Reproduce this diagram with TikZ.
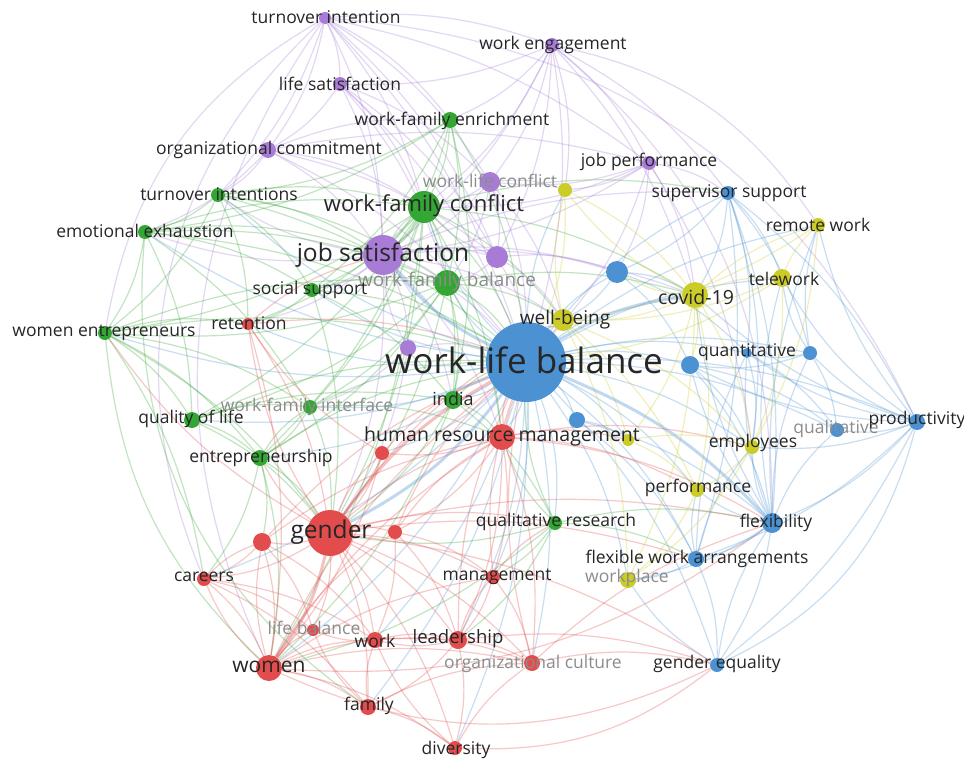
\documentclass[tikz,border=0pt]{standalone}
\usepackage{fontspec}
\setmainfont{Open Sans}
\usetikzlibrary{backgrounds}
\definecolor{cred}{RGB}{226,76,76}
\definecolor{cgreen}{RGB}{52,166,52}
\definecolor{cblue}{RGB}{76,146,210}
\definecolor{cyellow}{RGB}{204,204,40}
\definecolor{cpurple}{RGB}{168,124,214}
\definecolor{ctext}{RGB}{38,38,38}
\definecolor{cgrey}{RGB}{140,140,140}
\newcommand{\fs}[1]{\fontsize{#1}{#1}\selectfont}
\tikzset{
  kw/.style={circle, inner sep=0pt, minimum size=#1},
  lbl/.style={inner sep=0pt, text=ctext, font=\fs{17.5}},
  dim/.style={inner sep=0pt, text=cgrey, font=\fs{17.5}},
  lk/.style={draw=#1, line width=1.2pt, draw opacity=0.3, bend left=12},
  lkk/.style={lk=#1, line width=3pt, draw opacity=0.35},
}
\begin{document}
\begin{tikzpicture}[x=1pt, y=-1pt]
  \useasboundingbox (0,0) rectangle (964,760);
  % purple cluster
  \node[kw=12, fill=cpurple] (ti) at (325,18) {};
  \node[kw=14, fill=cpurple] (ls) at (340,84) {};
  \node[kw=14, fill=cpurple] (we) at (552,45) {};
  \node[kw=16, fill=cpurple] (oc) at (268,150) {};
  \node[kw=14, fill=cpurple] (jp) at (649,163) {};
  \node[kw=20, fill=cpurple] (wlc) at (490,182) {};
  \node[kw=40, fill=cpurple] (js) at (383,255) {};
  \node[kw=22, fill=cpurple] (p1) at (497,257) {};
  \node[kw=16, fill=cpurple] (p2) at (408,348) {};
  % green cluster
  \node[kw=16, fill=cgreen] (wfe) at (450,120) {};
  \node[kw=14, fill=cgreen] (tis) at (218,195) {};
  \node[kw=14, fill=cgreen] (ee) at (145,232) {};
  \node[kw=32, fill=cgreen] (wfc) at (424,207) {};
  \node[kw=26, fill=cgreen] (wfb) at (447,283) {};
  \node[kw=14, fill=cgreen] (ss) at (312,290) {};
  \node[kw=14, fill=cgreen] (went) at (105,333) {};
  \node[kw=16, fill=cgreen] (qol) at (192,420) {};
  \node[kw=14, fill=cgreen] (wfi) at (310,407) {};
  \node[kw=18, fill=cgreen] (ind) at (453,400) {};
  \node[kw=16, fill=cgreen] (ent) at (260,458) {};
  \node[kw=14, fill=cgreen] (qr) at (555,523) {};
  % red cluster
  \node[kw=12, fill=cred] (ret) at (248,324) {};
  \node[kw=26, fill=cred] (hrm) at (502,437) {};
  \node[kw=14, fill=cred] (r1) at (382,453) {};
  \node[kw=46, fill=cred] (gen) at (330,533) {};
  \node[kw=18, fill=cred] (r2) at (262,542) {};
  \node[kw=14, fill=cred] (r3) at (395,532) {};
  \node[kw=14, fill=cred] (car) at (204,579) {};
  \node[kw=14, fill=cred] (man) at (493,577) {};
  \node[kw=12, fill=cred] (lb) at (313,630) {};
  \node[kw=16, fill=cred] (wrk) at (375,640) {};
  \node[kw=18, fill=cred] (lead) at (458,640) {};
  \node[kw=16, fill=cred] (orc) at (532,663) {};
  \node[kw=26, fill=cred] (wom) at (269,668) {};
  \node[kw=16, fill=cred] (fam) at (368,707) {};
  \node[kw=14, fill=cred] (div) at (455,748) {};
  % blue cluster
  \node[kw=80, fill=cblue] (wlb) at (526,362) {};
  \node[kw=14, fill=cblue] (sup) at (728,193) {};
  \node[kw=22, fill=cblue] (b1) at (617,272) {};
  \node[kw=10, fill=cblue] (qnt) at (747,353) {};
  \node[kw=18, fill=cblue] (b2) at (690,365) {};
  \node[kw=14, fill=cblue] (b3) at (810,353) {};
  \node[kw=16, fill=cblue] (b4) at (577,420) {};
  \node[kw=14, fill=cblue] (qlt) at (837,430) {};
  \node[kw=16, fill=cblue] (prod) at (917,422) {};
  \node[kw=20, fill=cblue] (flex) at (772,523) {};
  \node[kw=16, fill=cblue] (fwa) at (696,559) {};
  \node[kw=14, fill=cblue] (geq) at (717,665) {};
  % yellow cluster
  \node[kw=14, fill=cyellow] (y1) at (565,190) {};
  \node[kw=14, fill=cyellow] (rw) at (818,225) {};
  \node[kw=18, fill=cyellow] (tw) at (782,278) {};
  \node[kw=26, fill=cyellow] (cov) at (695,295) {};
  \node[kw=22, fill=cyellow] (wb) at (563,320) {};
  \node[kw=12, fill=cyellow] (y2) at (628,440) {};
  \node[kw=14, fill=cyellow] (emp) at (752,447) {};
  \node[kw=14, fill=cyellow] (perf) at (697,490) {};
  \node[kw=16, fill=cyellow] (wpl) at (628,580) {};

  % links
  \begin{scope}[on background layer]
    \fill[white] (0,0) rectangle (964,760);
    \foreach \t in {ls,oc,js,we,wfc,wlb,wfe,jp,tis,wlc,p1}
      \draw[lk=cpurple] (ti) to (\t);
    \draw[lk=cpurple, bend right=35] (ti) to (car);
    \draw[lk=cpurple, bend right=30] (ti) to (wom);
    \draw[lk=cpurple, bend right=25] (ti) to (went);
    \draw[lk=cpurple, bend left=30] (ti) to (prod);
    \foreach \t in {ls,js,wlc,jp,wlb,sup,y1,p1,wfe,cov,wfc}
      \draw[lk=cpurple] (we) to (\t);
    \draw[lk=cpurple, bend left=25] (we) to (flex);
    \draw[lk=cpurple, bend left=22] (we) to (rw);
    \foreach \t in {js,oc,wlc,wfc,wlb,p1,wfb}
      \draw[lk=cpurple] (ls) to (\t);
    \foreach \t in {js,wfc,tis,wlb,p1,wfe,jp,ee}
      \draw[lk=cpurple] (oc) to (\t);
    \foreach \t in {sup,js,wlb,wlc,y1,b1,cov,emp,wfc}
      \draw[lk=cpurple] (jp) to (\t);
    \foreach \t in {js,wfc,wlb,wfb,y1,p1,wb}
      \draw[lk=cpurple] (wlc) to (\t);
    \foreach \t in {wfc,wfb,p1,p2,wlb,ss,ind,hrm,gen,wb,cov,ret,tis,ee,b1,sup}
      \draw[lk=cpurple] (js) to (\t);
    \foreach \t in {wfb,wlb,wfc,b1,wb}
      \draw[lk=cpurple] (p1) to (\t);
    \foreach \t in {wlb,js,gen,wfi}
      \draw[lk=cpurple] (p2) to (\t);
    \foreach \t in {wfc,js,wfb,wlb,ss,tis,ee,ind}
      \draw[lk=cgreen] (wfe) to (\t);
    \foreach \t in {wfc,js,ee,ss,wfb,wlb,went,ret}
      \draw[lk=cgreen] (tis) to (\t);
    \foreach \t in {wfc,js,ss,went,qol,wfb,wlb,wfi}
      \draw[lk=cgreen] (ee) to (\t);
    \draw[lk=cgreen, bend right=30] (ee) to (fam);
    \foreach \t in {wfb,wlb,ss,ind,wfi,gen,hrm,ret,wom,went,qol,ent,sup,wb,cov}
      \draw[lk=cgreen] (wfc) to (\t);
    \foreach \t in {wlb,ind,wfi,gen,hrm,qol,ent,went,wb,cov}
      \draw[lk=cgreen] (wfb) to (\t);
    \foreach \t in {wfb,wlb,ret,ind,gen}
      \draw[lk=cgreen] (ss) to (\t);
    \foreach \t in {ent,qol,wfi,gen,wlb,car,wfb,ret}
      \draw[lk=cgreen] (went) to (\t);
    \draw[lk=cgreen, bend right=20] (went) to (wom);
    \foreach \t in {ent,wfi,wlb,gen,ind}
      \draw[lk=cgreen] (qol) to (\t);
    \foreach \t in {ent,gen,wlb,hrm}
      \draw[lk=cgreen] (wfi) to (\t);
    \foreach \t in {wlb,hrm,gen,qr,wom}
      \draw[lk=cgreen] (ind) to (\t);
    \foreach \t in {gen,wom,car,wlb,wfi,r2}
      \draw[lk=cgreen] (ent) to (\t);
    \foreach \t in {wlb,gen,hrm,man,wom,flex,fwa,lead}
      \draw[lk=cgreen] (qr) to (\t);
    \foreach \t in {car,r2,r3,r1,hrm,man,lead,wrk,lb,fam,div,orc,ret,went,ent,flex,fwa,geq,qr,wb}
      \draw[lk=cred] (gen) to (\t);
    \foreach \t in {car,lb,wrk,lead,fam,div,r2,hrm,man,orc,wlb,r3}
      \draw[lk=cred] (wom) to (\t);
    \draw[lk=cred, bend right=25] (wom) to (geq);
    \draw[lk=cred, bend right=20] (wom) to (flex);
    \foreach \t in {wlb,man,lead,r1,orc,flex,wb,emp,perf,y2,r3}
      \draw[lk=cred] (hrm) to (\t);
    \foreach \t in {wlb,gen,wom,ret}
      \draw[lk=cred] (r1) to (\t);
    \foreach \t in {wom,car,lb,wrk,hrm,wlb}
      \draw[lk=cred] (r2) to (\t);
    \foreach \t in {wrk,lead,man,hrm,wlb}
      \draw[lk=cred] (r3) to (\t);
    \foreach \t in {orc,div,fam,wrk,man,wlb,geq}
      \draw[lk=cred] (lead) to (\t);
    \foreach \t in {r2,wom,lb,wrk,fam}
      \draw[lk=cred] (car) to (\t);
    \foreach \t in {div,wrk,lb,orc}
      \draw[lk=cred] (fam) to (\t);
    \foreach \t in {lead,lb,orc}
      \draw[lk=cred] (wrk) to (\t);
    \foreach \t in {orc,lead,wlb,qr}
      \draw[lk=cred] (man) to (\t);
    \foreach \t in {wlb,gen,wom,js}
      \draw[lk=cred] (ret) to (\t);
    \foreach \t in {orc,wrk}
      \draw[lk=cred] (div) to (\t);
    \draw[lk=cred, bend right=20] (div) to (geq);
    \foreach \t in {geq,wlb,flex}
      \draw[lk=cred] (orc) to (\t);
    \foreach \t in {sup,b1,qnt,b2,b3,b4,qlt,prod,fwa,geq,tw,rw,wb,emp,perf,wpl,y1,y2,wom,hrm,ind,wfc,wfb,car,lead,fam,went,qol,ee,tis,ret,ss,wfi,ent,r1,man,orc,wrk,div,qr}
      \draw[lk=cblue] (wlb) to (\t);
    \foreach \t in {b1,qnt,b3,prod,flex,fwa,tw,cov,emp}
      \draw[lk=cblue] (sup) to (\t);
    \foreach \t in {flex,qlt,b3,qnt,b2,tw,rw,fwa,geq,emp,cov}
      \draw[lk=cblue] (prod) to (\t);
    \foreach \t in {fwa,geq,qlt,b3,qnt,b2,emp,perf,wpl,tw,rw,cov}
      \draw[lk=cblue] (flex) to (\t);
    \foreach \t in {geq,wpl,perf,emp,qnt}
      \draw[lk=cblue] (fwa) to (\t);
    \foreach \t in {wpl,flex}
      \draw[lk=cblue] (geq) to (\t);
    \draw[lk=cblue, bend right=25] (geq) to (prod);
    \foreach \t in {qnt,b2,tw,rw,qlt}
      \draw[lk=cblue] (b3) to (\t);
    \foreach \t in {wb,cov,b2,qnt}
      \draw[lk=cblue] (b1) to (\t);
    \foreach \t in {qlt,emp,flex}
      \draw[lk=cblue] (b2) to (\t);
    \foreach \t in {qlt,emp}
      \draw[lk=cblue] (qnt) to (\t);
    \foreach \t in {y2,flex,fwa}
      \draw[lk=cblue] (b4) to (\t);
    \foreach \t in {tw,rw,wb,emp,perf,y1,y2,wpl,b2,b1}
      \draw[lk=cyellow] (cov) to (\t);
    \foreach \t in {rw,emp,wb,wlb}
      \draw[lk=cyellow] (tw) to (\t);
    \foreach \t in {emp,wb}
      \draw[lk=cyellow] (rw) to (\t);
    \foreach \t in {y1,y2,emp,perf,wpl}
      \draw[lk=cyellow] (wb) to (\t);
    \foreach \t in {cov,wlb}
      \draw[lk=cyellow] (y1) to (\t);
    \foreach \t in {emp,perf}
      \draw[lk=cyellow] (y2) to (\t);
    \foreach \t in {perf,wpl}
      \draw[lk=cyellow] (emp) to (\t);
    \draw[lk=cyellow] (perf) to (wpl);
    % heavier links
    \draw[lkk=cred] (gen) to (wom);
    \draw[lkk=cred] (gen) to (wlb);
    \draw[lkk=cblue] (wlb) to (js);
    \draw[lkk=cblue] (wlb) to (cov);
    \draw[lkk=cblue] (wlb) to (flex);
    \draw[lkk=cblue] (wlb) to (gen);
    \draw[lkk=cgreen] (wfc) to (js);
  \end{scope}

  % labels
  \node[lbl] (ti-t) at (326,17) {turnover intention};
  \node[lbl] (ls-t) at (340,84) {life satisfaction};
  \node[lbl] (we-t) at (553,45) {work engagement};
  \node[lbl] (oc-t) at (269,150) {organizational commitment};
  \node[lbl] (jp-t) at (649,162) {job performance};
  \node[dim] (wlc-t) at (490,181) {work-life conflict};
  \node[lbl, font=\fs{24.5}] (js-t) at (383,255) {job satisfaction};
  \node[lbl] (wfe-t) at (452,121) {work-family enrichment};
  \node[lbl] (tis-t) at (219,194) {turnover intentions};
  \node[lbl] (ee-t) at (145,231) {emotional exhaustion};
  \node[lbl, font=\fs{22}] (wfc-t) at (424,206) {work-family conflict};
  \node[dim, font=\fs{19}] (wfb-t) at (447,282) {work-family balance};
  \node[lbl] (ss-t) at (310,290) {social support};
  \node[lbl] (went-t) at (104,333) {women entrepreneurs};
  \node[lbl] (qol-t) at (191,419) {quality of life};
  \node[dim] (wfi-t) at (307,407) {work-family interface};
  \node[lbl, font=\fs{18}] (ind-t) at (453,399) {india};
  \node[lbl] (ent-t) at (261,458) {entrepreneurship};
  \node[lbl] (qr-t) at (556,522) {qualitative research};
  \node[lbl] (ret-t) at (249,323) {retention};
  \node[lbl, font=\fs{19.5}] (hrm-t) at (502,436) {human resource management};
  \node[lbl, font=\fs{24.5}] (gen-t) at (331,532) {gender};
  \node[lbl] (car-t) at (204,577) {careers};
  \node[lbl] (man-t) at (497,577) {management};
  \node[dim] (lb-t) at (314,628) {life balance};
  \node[lbl] (wrk-t) at (375,641) {work};
  \node[lbl, font=\fs{18.5}] (lead-t) at (458,639) {leadership};
  \node[dim] (orc-t) at (533,664) {organizational culture};
  \node[lbl, font=\fs{21}] (wom-t) at (269,667) {women};
  \node[lbl] (fam-t) at (369,706) {family};
  \node[lbl] (div-t) at (456,750) {diversity};
  \node[lbl, font=\fs{35}] (wlb-t) at (524,360) {work-life balance};
  \node[lbl] (sup-t) at (729,193) {supervisor support};
  \node[lbl] (qnt-t) at (747,352) {quantitative};
  \node[dim] (qlt-t) at (836,429) {qualitative};
  \node[lbl] (prod-t) at (917,420) {productivity};
  \node[lbl] (flex-t) at (776,523) {flexibility};
  \node[lbl] (fwa-t) at (697,559) {flexible work arrangements};
  \node[lbl] (geq-t) at (717,664) {gender equality};
  \node[lbl] (rw-t) at (818,225) {remote work};
  \node[lbl, font=\fs{17.5}] (tw-t) at (784,279) {telework};
  \node[lbl, font=\fs{19.5}] (cov-t) at (696,297) {covid-19};
  \node[lbl, font=\fs{19}] (wb-t) at (565,320) {well-being};
  \node[lbl] (emp-t) at (753,443) {employees};
  \node[lbl] (perf-t) at (698,488) {performance};
  \node[dim] (wpl-t) at (627,578) {workplace};
\end{tikzpicture}
\end{document}
